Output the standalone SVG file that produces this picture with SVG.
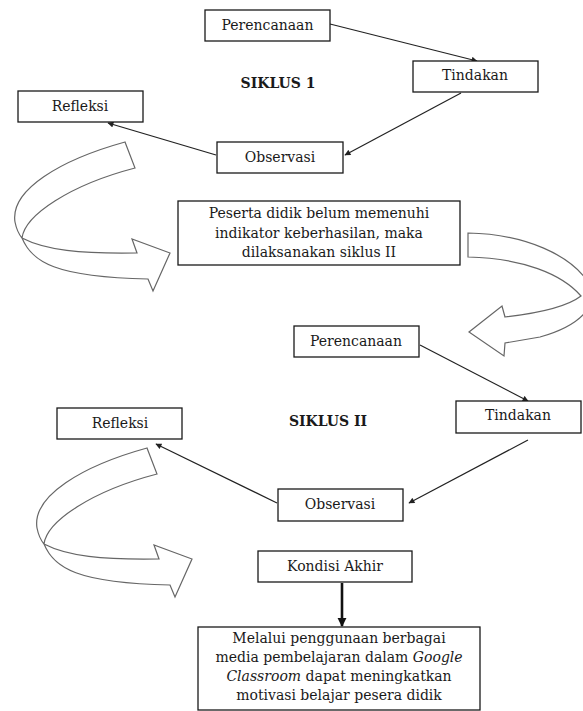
<svg xmlns="http://www.w3.org/2000/svg" width="583" height="711" viewBox="0 0 583 711">
<style>
.box{fill:#fff;stroke:#1a1a1a;stroke-width:1.3}
.t{font-family:"DejaVu Serif","Liberation Serif",serif;font-size:14px;fill:#1a1a1a;text-anchor:middle}
.b{font-weight:bold}
.ln{stroke:#222;stroke-width:1.2;fill:none}
.ca{fill:#fff;stroke:#666;stroke-width:1.2;stroke-linejoin:miter}
</style>
<defs>
<marker id="ah" viewBox="0 0 10 10" refX="9" refY="5" markerWidth="8" markerHeight="6" markerUnits="userSpaceOnUse" orient="auto">
<path d="M0,0 L10,5 L0,10 Z" fill="#222"/>
</marker>
<marker id="ahb" viewBox="0 0 10 10" refX="9" refY="5" markerWidth="9" markerHeight="10" markerUnits="userSpaceOnUse" orient="auto">
<path d="M0,0 L10,5 L0,10 Z" fill="#111"/>
</marker>
<path id="curl" d="M125,142 C60,160 10,190 15,222 Q17,232 22,238 C32,262 55,277 148,279 L153,291 L170,253 L132,239 L137,253 C80,254 45,250 22,238 C25,215 70,185 135,168 Z"/>
</defs>

<g id="curved-arrows">
<use href="#curl" class="ca"/>
<use href="#curl" class="ca" transform="translate(22,306)"/>
<path class="ca" d="M468,233 C525,234 572,255 590,285 C598,305 582,325 540,337 L505,343 L504,356 L469,332 L502,306 L505,317 C540,313 568,306 581,296 C562,274 522,258 468,257 Z"/>
</g>

<g id="connectors">
<line class="ln" x1="330" y1="24" x2="477" y2="61" marker-end="url(#ah)"/>
<line class="ln" x1="461" y1="93" x2="345" y2="155" marker-end="url(#ah)"/>
<line class="ln" x1="216" y1="155" x2="108" y2="123" marker-end="url(#ah)"/>
<line class="ln" x1="420" y1="345" x2="528" y2="401" marker-end="url(#ah)"/>
<line class="ln" x1="528" y1="440" x2="409" y2="503" marker-end="url(#ah)"/>
<line class="ln" x1="277" y1="503" x2="156" y2="444" marker-end="url(#ah)"/>
<line x1="342" y1="583" x2="342" y2="626" stroke="#111" stroke-width="2.6" marker-end="url(#ahb)"/>
</g>

<g id="perencanaan1"><rect class="box" x="205" y="10" width="125" height="31"/><text class="t" x="267.5" y="30">Perencanaan</text></g>
<g id="tindakan1"><rect class="box" x="413" y="61" width="125" height="31"/><text class="t" x="475" y="80">Tindakan</text></g>
<g id="siklus1"><text class="t b" x="278" y="88">SIKLUS 1</text></g>
<g id="refleksi1"><rect class="box" x="18" y="91" width="125" height="31"/><text class="t" x="80" y="111">Refleksi</text></g>
<g id="observasi1"><rect class="box" x="217" y="142" width="126" height="31"/><text class="t" x="280" y="162">Observasi</text></g>
<g id="keputusan"><rect class="box" x="178" y="201" width="282" height="64"/>
<text class="t" x="319" y="218">Peserta didik belum memenuhi</text>
<text class="t" x="319" y="238">indikator keberhasilan, maka</text>
<text class="t" x="319" y="257">dilaksanakan siklus II</text></g>
<g id="perencanaan2"><rect class="box" x="294" y="326" width="125" height="31"/><text class="t" x="356" y="346">Perencanaan</text></g>
<g id="tindakan2"><rect class="box" x="456" y="401" width="125" height="32"/><text class="t" x="518" y="420">Tindakan</text></g>
<g id="siklus2"><text class="t b" x="328" y="426">SIKLUS II</text></g>
<g id="refleksi2"><rect class="box" x="57" y="408" width="125" height="31"/><text class="t" x="120" y="428">Refleksi</text></g>
<g id="observasi2"><rect class="box" x="278" y="489" width="125" height="32"/><text class="t" x="340" y="509">Observasi</text></g>
<g id="kondisi"><rect class="box" x="258" y="551" width="154" height="31"/><text class="t" x="335" y="571">Kondisi Akhir</text></g>
<g id="hasil"><rect class="box" x="198" y="627" width="282" height="83"/>
<text class="t" x="339" y="643">Melalui penggunaan berbagai</text>
<text class="t" x="339" y="662">media pembelajaran dalam <tspan font-style="italic">Google</tspan></text>
<text class="t" x="339" y="681"><tspan font-style="italic">Classroom</tspan> dapat meningkatkan</text>
<text class="t" x="339" y="700">motivasi belajar pesera didik</text></g>
</svg>
